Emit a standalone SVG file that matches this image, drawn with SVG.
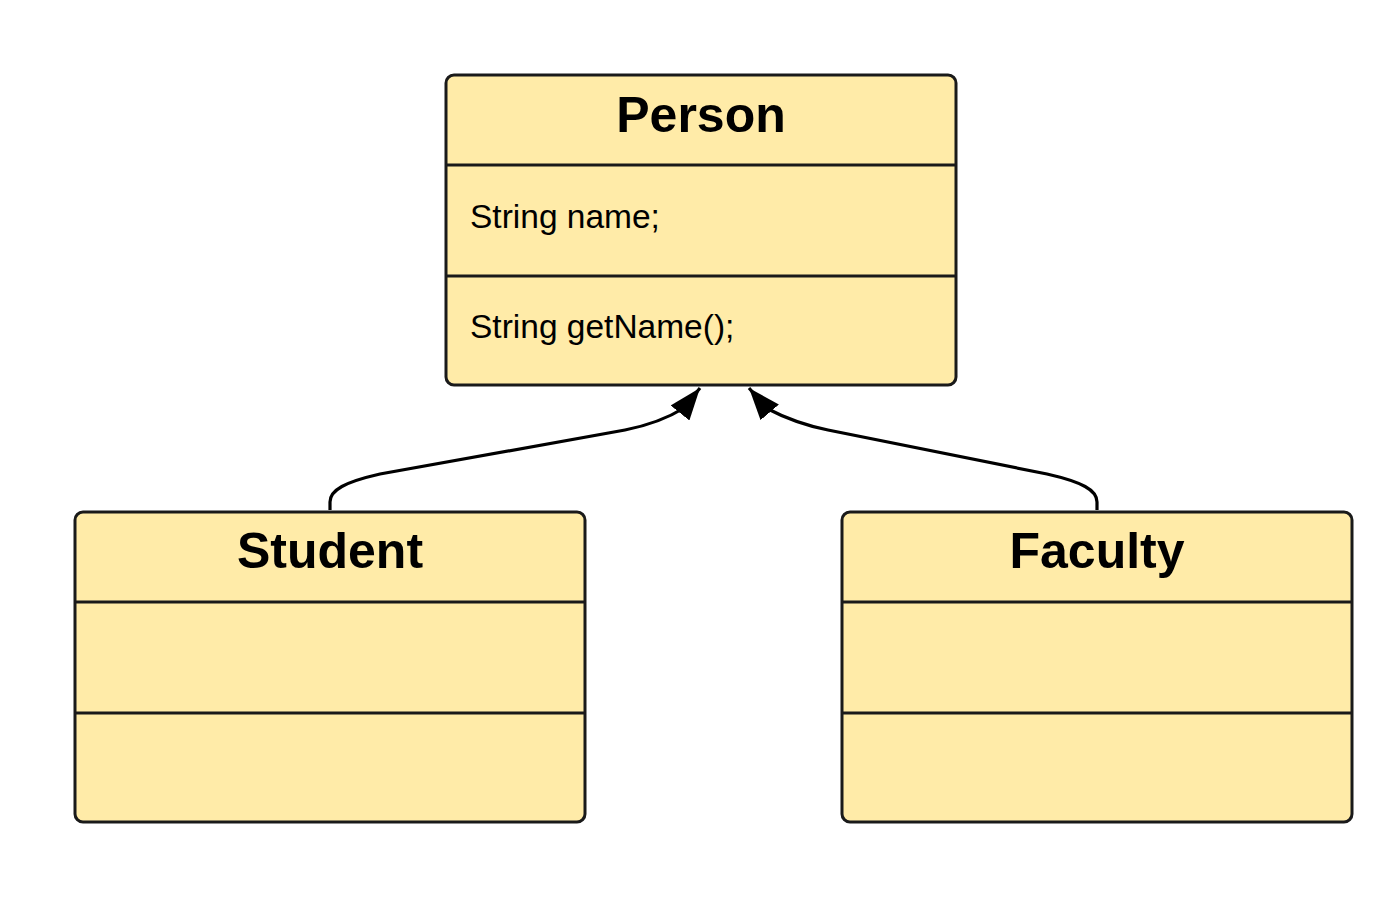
<svg xmlns="http://www.w3.org/2000/svg" width="1380" height="898" viewBox="0 0 1380 898">
<style>
.box{fill:#FFEBA8;stroke:#1a1a1a;stroke-width:3}
.div{stroke:#1a1a1a;stroke-width:3}
.title{font-family:"Liberation Sans",Arial,sans-serif;font-weight:bold;font-size:50px;fill:#000;text-anchor:middle}
.attr{font-family:"Liberation Sans",Arial,sans-serif;font-size:33.5px;fill:#000}
.conn{fill:none;stroke:#000;stroke-width:3.2}
</style>
<defs>
<marker id="arrow" viewBox="0 0 32 24" refX="32" refY="12" markerWidth="32" markerHeight="24" markerUnits="userSpaceOnUse" orient="auto">
<path d="M0,0 L32,12 L0,24 z" fill="#000"/>
</marker>
</defs>
<rect width="1380" height="898" fill="#fff"/>
<g id="connectors">
<path class="conn" marker-end="url(#arrow)" d="M330,510 L330,502 C330,490 345,482 380,474 L625,430 C650,425 668,418 684,408 L700,388"/>
<path class="conn" marker-end="url(#arrow)" d="M1097,510 L1097,502 C1097,490 1082,482 1047,474 L828,430 C803,425 785,418 766,408 L749,388"/>
</g>
<g id="person">
<rect class="box" x="446" y="75" width="510" height="310" rx="8"/>
<line class="div" x1="446" y1="165" x2="956" y2="165"/>
<line class="div" x1="446" y1="276" x2="956" y2="276"/>
<text class="title" x="701" y="132">Person</text>
<text class="attr" x="470" y="228">String name;</text>
<text class="attr" x="470" y="338">String getName();</text>
</g>
<g id="student">
<rect class="box" x="75" y="512" width="510" height="310" rx="8"/>
<line class="div" x1="75" y1="602" x2="585" y2="602"/>
<line class="div" x1="75" y1="713" x2="585" y2="713"/>
<text class="title" x="330" y="568">Student</text>
</g>
<g id="faculty">
<rect class="box" x="842" y="512" width="510" height="310" rx="8"/>
<line class="div" x1="842" y1="602" x2="1352" y2="602"/>
<line class="div" x1="842" y1="713" x2="1352" y2="713"/>
<text class="title" x="1097" y="568">Faculty</text>
</g>
</svg>
